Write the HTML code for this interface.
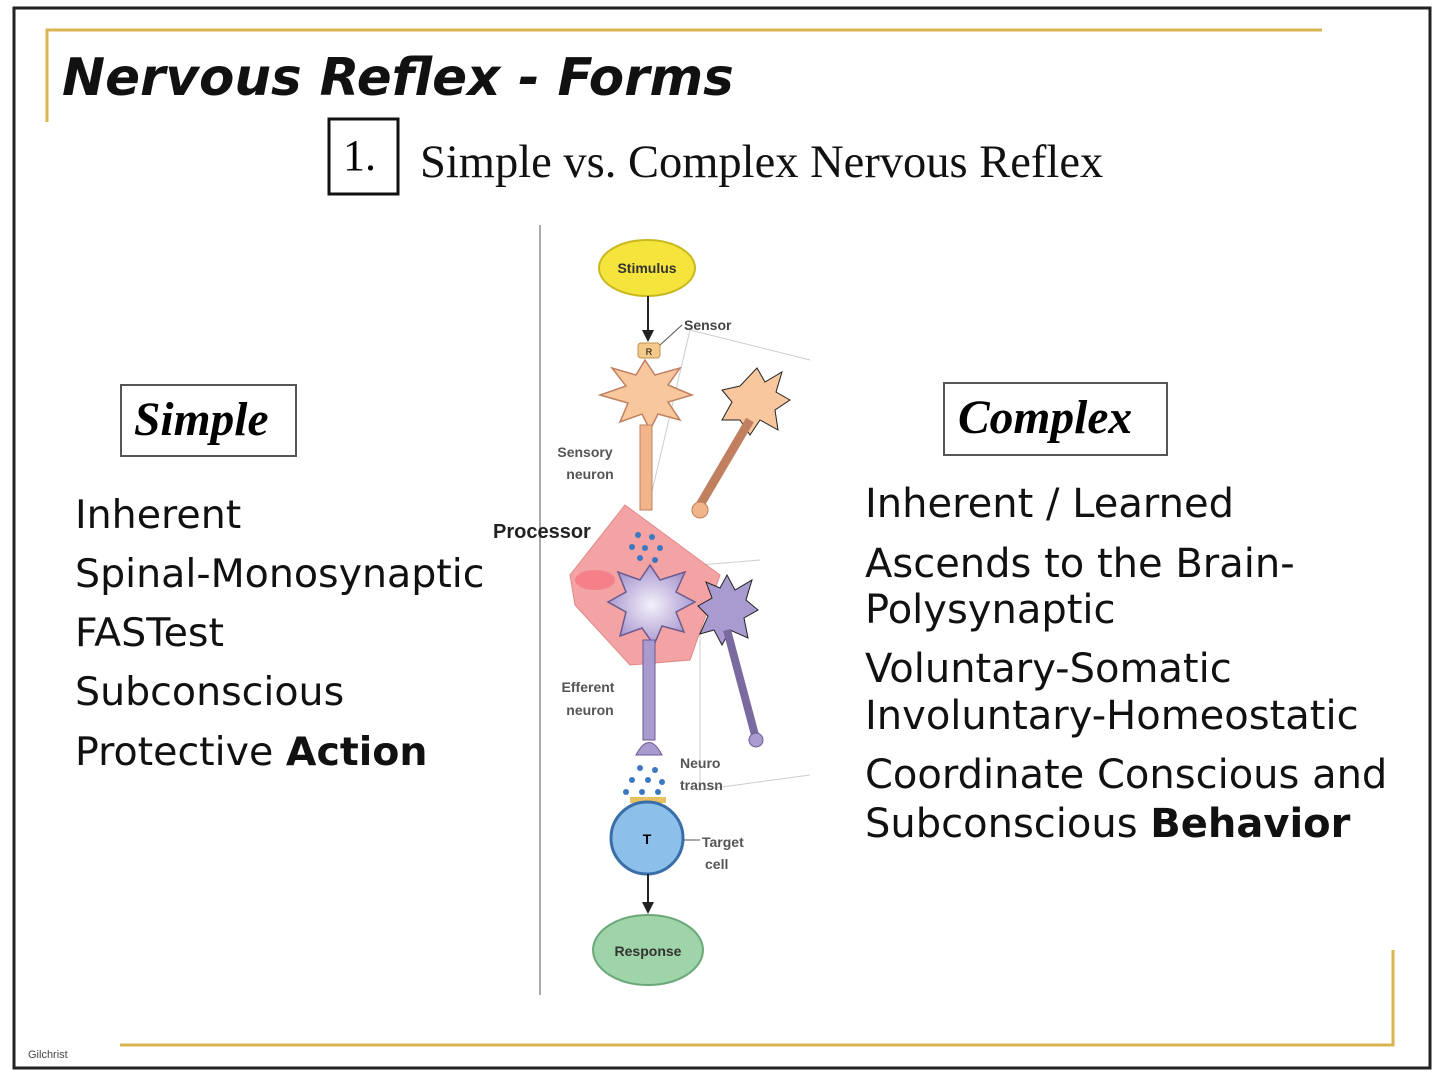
<!DOCTYPE html>
<html><head><meta charset="utf-8"><style>
body{margin:0;width:1440px;height:1077px;background:#fff;position:relative;overflow:hidden;font-family:"DejaVu Sans","Liberation Sans",sans-serif}
.a{position:absolute;white-space:nowrap}
.l{font-size:39.5px;color:#111;line-height:1}
.r{font-size:40px;color:#111;line-height:1}
</style></head><body>
<svg width="1440" height="1077" style="position:absolute;left:0;top:0">
<rect x="14" y="8" width="1416" height="1060" fill="none" stroke="#222" stroke-width="3"/>
<path d="M47 122V30H1322" fill="none" stroke="#d8b452" stroke-width="3"/>
<path d="M120 1045H1393V950" fill="none" stroke="#d8b452" stroke-width="3"/>
<rect x="329" y="119" width="69" height="75" fill="none" stroke="#111" stroke-width="3"/>
<rect x="121" y="385" width="175" height="71" fill="none" stroke="#555" stroke-width="2"/>
<rect x="944" y="383" width="223" height="72" fill="none" stroke="#555" stroke-width="2"/>
<line x1="540" y1="225" x2="540" y2="995" stroke="#aaa" stroke-width="2"/>
<path d="M690 330 L810 360 M690 330 L650 500 M700 565 L760 560 M700 565 L700 790 L810 775" fill="none" stroke="#ccc" stroke-width="1"/>
<path d="M625 505 L720 575 L690 660 L630 665 L575 605 L570 575 Z" fill="#f3a3a3" stroke="#e08888"/>
<ellipse cx="595" cy="580" rx="20" ry="10" fill="#f56a7a" opacity=".6"/>
<ellipse cx="647" cy="268" rx="48" ry="28" fill="#f4e43c" stroke="#c9b820" stroke-width="2"/>
<text x="647" y="273" font-size="14" font-weight="bold" text-anchor="middle" fill="#333" font-family="Liberation Sans">Stimulus</text>
<line x1="648" y1="296" x2="648" y2="335" stroke="#222" stroke-width="2"/><path d="M642 330 L648 342 L654 330Z" fill="#222"/>
<rect x="638" y="343" width="22" height="15" rx="3" fill="#f5c98a" stroke="#c09050"/>
<text x="649" y="355" font-size="9" text-anchor="middle" font-family="Liberation Sans">R</text>
<line x1="660" y1="345" x2="682" y2="325" stroke="#555"/>
<text x="684" y="330" font-size="14" font-weight="bold" fill="#444" font-family="Liberation Sans">Sensor</text>
<path d="M645 360 L655 375 L680 368 L668 385 L692 395 L668 402 L680 420 L658 414 L650 430 L642 414 L620 422 L628 403 L600 395 L626 386 L612 368 L636 375 Z" fill="#f8c79e" stroke="#c08060" stroke-width="1.5"/>
<rect x="640" y="425" width="12" height="85" fill="#f2b48a" stroke="#c08060"/>
<text x="585" y="457" font-size="14" font-weight="bold" fill="#555" text-anchor="middle" font-family="Liberation Sans">Sensory</text>
<text x="590" y="479" font-size="14" font-weight="bold" fill="#555" text-anchor="middle" font-family="Liberation Sans">neuron</text>
<path d="M757 368 L765 382 L782 372 L776 392 L790 400 L775 410 L778 430 L760 420 L750 435 L740 420 L722 420 L732 402 L722 390 L740 386 Z" fill="#f8c79e" stroke="#222"/>
<line x1="750" y1="420" x2="700" y2="505" stroke="#c08060" stroke-width="9"/>
<circle cx="700" cy="510" r="8" fill="#f2b48a" stroke="#c08060"/>
<g fill="#3a78c0"><circle cx="638" cy="535" r="3"/><circle cx="652" cy="537" r="3"/><circle cx="632" cy="547" r="3"/><circle cx="645" cy="548" r="3"/><circle cx="660" cy="548" r="3"/><circle cx="640" cy="558" r="3"/><circle cx="655" cy="560" r="3"/>
<circle cx="640" cy="768" r="3"/><circle cx="655" cy="770" r="3"/><circle cx="632" cy="780" r="3"/><circle cx="648" cy="780" r="3"/><circle cx="662" cy="782" r="3"/><circle cx="626" cy="792" r="3"/><circle cx="642" cy="792" r="3"/><circle cx="658" cy="792" r="3"/></g>
<defs><radialGradient id="p"><stop offset="0" stop-color="#f4f0fb"/><stop offset="1" stop-color="#a99ad0"/></radialGradient></defs>
<path d="M650 565 L660 580 L685 572 L676 592 L695 602 L676 612 L684 632 L662 626 L654 645 L642 628 L620 636 L626 612 L608 602 L626 592 L618 572 L640 580 Z" fill="url(#p)" stroke="#6a5a90" stroke-width="1.5"/>
<rect x="643" y="640" width="12" height="100" fill="#a99ad0" stroke="#6a5a90"/>
<path d="M636 755 Q649 730 662 755 Z" fill="#a99ad0" stroke="#6a5a90"/>
<text x="588" y="692" font-size="14" font-weight="bold" fill="#555" text-anchor="middle" font-family="Liberation Sans">Efferent</text>
<text x="590" y="715" font-size="14" font-weight="bold" fill="#555" text-anchor="middle" font-family="Liberation Sans">neuron</text>
<path d="M727 575 L735 590 L752 580 L746 600 L758 610 L744 618 L748 638 L730 630 L722 645 L714 630 L700 634 L708 616 L698 606 L712 598 L706 582 L720 588 Z" fill="#a99ad0" stroke="#222"/>
<line x1="727" y1="630" x2="755" y2="735" stroke="#7a6aa0" stroke-width="8"/>
<circle cx="756" cy="740" r="7" fill="#a99ad0" stroke="#6a5a90"/>
<text x="680" y="768" font-size="14" font-weight="bold" fill="#555" font-family="Liberation Sans">Neuro</text>
<text x="680" y="790" font-size="14" font-weight="bold" fill="#555" font-family="Liberation Sans">transn</text>
<rect x="630" y="797" width="36" height="6" fill="#e8c060"/>
<circle cx="647" cy="838" r="36" fill="#8cc0ea" stroke="#3a6ea8" stroke-width="3"/>
<text x="647" y="844" font-size="14" font-weight="bold" text-anchor="middle" font-family="Liberation Sans">T</text>
<line x1="683" y1="840" x2="700" y2="840" stroke="#555"/>
<text x="702" y="847" font-size="14" font-weight="bold" fill="#555" font-family="Liberation Sans">Target</text>
<text x="705" y="869" font-size="14" font-weight="bold" fill="#555" font-family="Liberation Sans">cell</text>
<line x1="648" y1="874" x2="648" y2="905" stroke="#222" stroke-width="2"/><path d="M642 902 L648 914 L654 902Z" fill="#222"/>
<ellipse cx="648" cy="950" rx="55" ry="35" fill="#9fd3a8" stroke="#6aa878" stroke-width="2"/>
<text x="648" y="956" font-size="14" font-weight="bold" text-anchor="middle" fill="#333" font-family="Liberation Sans">Response</text>
<text x="493" y="538" font-size="20" font-weight="bold" fill="#222" font-family="Liberation Sans">Processor</text>
<text x="28" y="1058" font-size="11" fill="#444" font-family="Liberation Sans">Gilchrist</text>
</svg>
<div class="a" style="left:62px;top:48px;font:italic bold 51.5px 'DejaVu Sans',sans-serif;color:#111">Nervous Reflex - Forms</div>
<div class="a" style="left:343px;top:130px;font:44px 'Liberation Serif',serif">1.</div>
<div class="a" style="left:420px;top:136px;font:46.5px 'Liberation Serif',serif;color:#111">Simple vs. Complex Nervous Reflex</div>
<div class="a" style="left:134px;top:393px;font:italic bold 47.5px 'Liberation Serif',serif">Simple</div>
<div class="a" style="left:958px;top:391px;font:italic bold 47.5px 'Liberation Serif',serif">Complex</div>
<div class="a l" style="left:75px;top:496px">Inherent</div>
<div class="a l" style="left:75px;top:555px">Spinal-Monosynaptic</div>
<div class="a l" style="left:75px;top:614px">FASTest</div>
<div class="a l" style="left:75px;top:673px">Subconscious</div>
<div class="a l" style="left:75px;top:733px">Protective <b>Action</b></div>
<div class="a r" style="left:865px;top:484px">Inherent / Learned</div>
<div class="a r" style="left:865px;top:544px">Ascends to the Brain-</div>
<div class="a r" style="left:865px;top:590px">Polysynaptic</div>
<div class="a r" style="left:865px;top:649px">Voluntary-Somatic</div>
<div class="a r" style="left:865px;top:696px">Involuntary-Homeostatic</div>
<div class="a r" style="left:865px;top:755px">Coordinate Conscious and</div>
<div class="a r" style="left:865px;top:804px">Subconscious <b>Behavior</b></div>
</body></html>
